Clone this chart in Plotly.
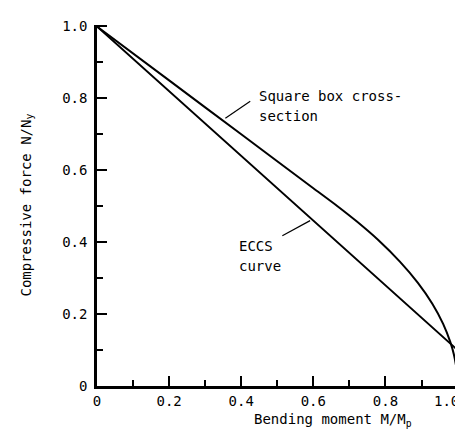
import plotly.graph_objects as go

# ECCS curve (M/Mp, N/Ny)
eccs_m = [0.0, 1.0, 1.0]
eccs_n = [1.0, 0.1, 0.0]

# Square box cross-section curve (M/Mp, N/Ny)
box_m = [0.0, 0.2, 0.4, 0.6, 0.667, 0.72, 0.78, 0.84, 0.89, 0.93, 0.96, 0.98, 0.99, 0.997, 1.0]
box_n = [1.0, 0.85, 0.70, 0.55, 0.50, 0.458, 0.406, 0.346, 0.287, 0.229, 0.173, 0.122, 0.087, 0.047, 0.0]

x_tickvals = [0, 0.2, 0.4, 0.6, 0.8, 1.0]
x_ticktext = ["0", "0.2", "0.4", "0.6", "0.8", "1.0"]
y_tickvals = [0, 0.2, 0.4, 0.6, 0.8, 1.0]
y_ticktext = ["0", "0.2", "0.4", "0.6", "0.8", "1.0"]

FONT = "DejaVu Sans Mono"

fig = go.Figure()
fig.add_trace(go.Scatter(x=eccs_m, y=eccs_n, mode="lines", cliponaxis=False,
                         line=dict(color="black", width=2), showlegend=False))
fig.add_trace(go.Scatter(x=box_m, y=box_n, mode="lines", cliponaxis=False,
                         line=dict(color="black", width=2, shape="spline", smoothing=0.6),
                         showlegend=False))

axis_common = dict(
    showgrid=False, zeroline=False, showline=True, linecolor="black", linewidth=2.5,
    ticks="inside", ticklen=10, tickwidth=2, tickcolor="black", automargin=False,
    tickfont=dict(family=FONT, size=14, color="black"),
    minor=dict(ticks="inside", ticklen=6, tickwidth=2, tickcolor="black",
               tickvals=[0.1, 0.3, 0.5, 0.7, 0.9], showgrid=False),
)

# the last x label ("1.0") sits flush right of its tick in the reference; drawn as annotation
fig.update_xaxes(range=[0, 1.004], tickmode="array", tickvals=x_tickvals,
                 ticktext=x_ticktext[:-1] + [""], **axis_common)
fig.update_yaxes(range=[0, 1.004], tickmode="array", tickvals=y_tickvals, ticktext=y_ticktext,
                 ticklabelstandoff=4, **axis_common)
fig.add_annotation(xref="x", yref="paper", x=x_tickvals[-1], y=0, text=x_ticktext[-1],
                   showarrow=False, xanchor="right", yanchor="top", xshift=3, yshift=-5,
                   font=dict(family=FONT, size=14, color="black"))

annots = [
    dict(x=0.445, y=0.806, text="Square box cross-", xanchor="left", yanchor="middle"),
    dict(x=0.445, y=0.751, text="section", xanchor="left", yanchor="middle"),
    dict(x=0.387, y=0.39, text="ECCS", xanchor="left", yanchor="middle"),
    dict(x=0.387, y=0.335, text="curve", xanchor="left", yanchor="middle"),
]
for a in annots:
    fig.add_annotation(xref="x", yref="y", showarrow=False,
                       font=dict(family=FONT, size=14, color="black"), **a)

# leader lines
fig.add_shape(type="line", xref="x", yref="y", x0=0.425, y0=0.792, x1=0.356, y1=0.745,
              line=dict(color="black", width=1.2))
fig.add_shape(type="line", xref="x", yref="y", x0=0.514, y0=0.418, x1=0.591, y1=0.46,
              line=dict(color="black", width=1.2))

fig.add_annotation(xref="paper", yref="paper", x=0.652, y=-0.094, showarrow=False,
                   text="Bending moment M/M<sub>p</sub>", xanchor="center", yanchor="middle",
                   font=dict(family=FONT, size=14, color="black"))
fig.add_annotation(xref="paper", yref="paper", x=-0.196, y=0.5, showarrow=False, textangle=-90,
                   text="Compressive force N/N<sub>y</sub>", xanchor="center", yanchor="middle",
                   font=dict(family=FONT, size=14, color="black"))

fig.update_layout(width=463, height=431, margin=dict(l=89, r=12, t=17, b=53),
                  plot_bgcolor="white", paper_bgcolor="white")

fig.write_html("out.html")
